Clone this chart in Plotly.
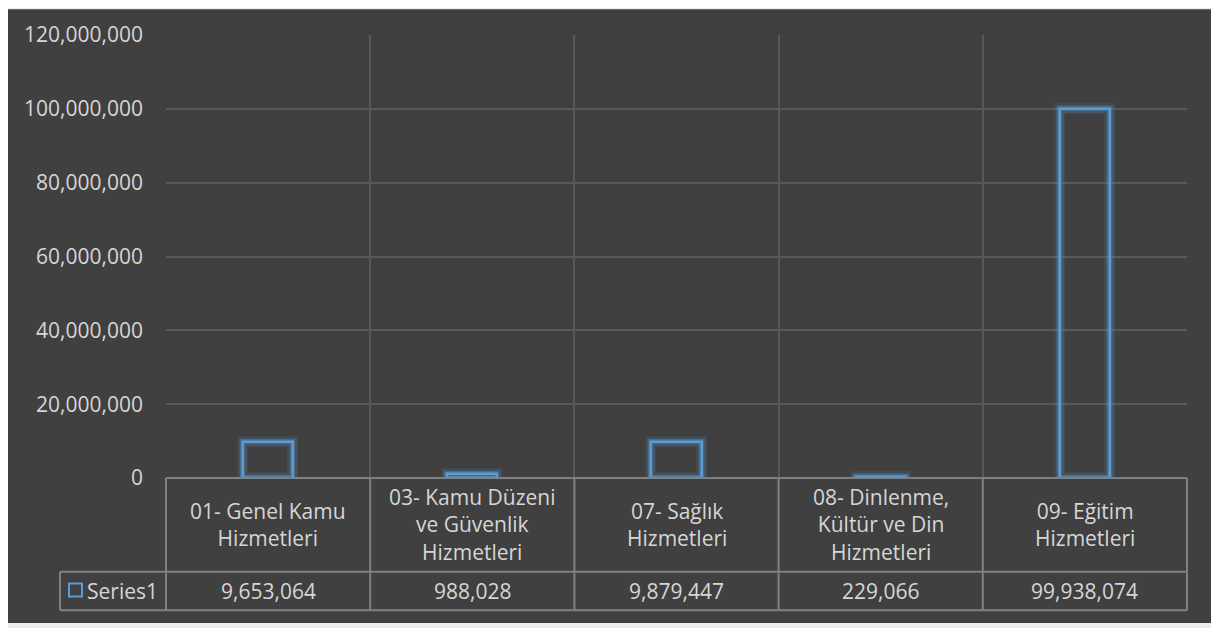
import plotly.graph_objects as go

categories = ["01- Genel Kamu Hizmetleri",
              "03- Kamu Düzeni ve Güvenlik Hizmetleri",
              "07- Sağlık Hizmetleri",
              "08- Dinlenme, Kültür ve Din Hizmetleri",
              "09- Eğitim Hizmetleri"]
header_labels = ["01- Genel Kamu<br>Hizmetleri",
                 "03- Kamu Düzeni<br>ve Güvenlik<br>Hizmetleri",
                 "07- Sağlık<br>Hizmetleri",
                 "08- Dinlenme,<br>Kültür ve Din<br>Hizmetleri",
                 "09- Eğitim<br>Hizmetleri"]
series_name = "Series1"
values = [9653064, 988028, 9879447, 229066, 99938074]
y_ticks = [0, 20000000, 40000000, 60000000, 80000000, 100000000, 120000000]

BG = "#404040"
TXT = "#d6d6d6"
GRID = "#595959"
TBL = "#808080"
BLUE = "#5B9BD5"
FONT = "Open Sans"
FS = 21

fig = go.Figure()
# glow layers
for w, a in [(11, 0.10), (8, 0.16), (5, 0.3)]:
    fig.add_trace(go.Bar(x=categories, y=values, width=0.245,
                         marker=dict(color="rgba(0,0,0,0)",
                                     line=dict(color=f"rgba(91,155,213,{a})", width=w)),
                         hoverinfo="skip", showlegend=False))
fig.add_trace(go.Bar(x=categories, y=values, width=0.245, name=series_name,
                     marker=dict(color="rgba(0,0,0,0)", line=dict(color=BLUE, width=2.5)),
                     showlegend=False))

# page offset (default body margin) and geometry in page pixels
OFF = 8
W, H = 1219 - OFF, 628 - OFF
PL, PR, PT, PB = 166, 1187, 29, 478        # plot area edges in page pixels
L, T = PL - OFF, PT - OFF
R, B = W - (PR - OFF), H - (PB - OFF)
pw, ph = PR - PL, PB - PT
def px(xp): return (xp - PL) / pw
def py(yp): return (PB - yp) / ph

shapes = []
shapes.append(dict(type="rect", xref="paper", yref="paper", layer="below",
                   x0=px(5), x1=px(1215), y0=py(625), y1=py(3),
                   fillcolor=BG, line=dict(width=0)))
y_top, y_mid, y_bot = py(478), py(573), py(612)
x_left = px(60)
shapes.append(dict(type="line", xref="paper", yref="paper", x0=0, x1=1, y0=y_top, y1=y_top,
                   line=dict(color=TBL, width=2)))
for yy in (y_mid, y_bot):
    shapes.append(dict(type="line", xref="paper", yref="paper", x0=x_left, x1=1, y0=yy, y1=yy,
                       line=dict(color=TBL, width=2)))
for i in range(len(categories) + 1):
    xx = i / len(categories)
    shapes.append(dict(type="line", xref="paper", yref="paper", x0=xx, x1=xx, y0=y_bot, y1=y_top,
                       line=dict(color=TBL, width=2)))
shapes.append(dict(type="line", xref="paper", yref="paper", x0=x_left, x1=x_left, y0=y_bot, y1=y_mid,
                   line=dict(color=TBL, width=2)))
shapes.append(dict(type="rect", xref="paper", yref="paper", x0=px(69), x1=px(82), y0=py(598), y1=py(585),
                   fillcolor="rgba(0,0,0,0)", line=dict(color=BLUE, width=2)))

annotations = []
for cat, lab, v in zip(categories, header_labels, values):
    annotations.append(dict(x=cat, xref="x", y=py(525.5), yref="paper", text=lab, showarrow=False,
                            font=dict(family=FONT, size=FS, color=TXT), align="center",
                            xanchor="center", yanchor="middle"))
    annotations.append(dict(x=cat, xref="x", y=py(592.5), yref="paper", text=f"{v:,}", showarrow=False,
                            font=dict(family=FONT, size=FS, color=TXT),
                            xanchor="center", yanchor="middle"))
annotations.append(dict(x=px(85), xref="paper", y=py(592.5), yref="paper", text=series_name,
                        showarrow=False, font=dict(family=FONT, size=FS, color=TXT),
                        xanchor="left", yanchor="middle"))

fig.update_layout(
    width=W, height=H,
    margin=dict(l=L, r=R, t=T, b=B),
    paper_bgcolor="#ececec", plot_bgcolor="rgba(0,0,0,0)",
    barmode="overlay", bargap=0,
    shapes=shapes, annotations=annotations,
    font=dict(family=FONT, color=TXT),
    xaxis=dict(type="category", categoryorder="array", categoryarray=categories,
               tickson="boundaries", showgrid=True, gridcolor=GRID, gridwidth=1.5,
               showticklabels=False, ticks="", zeroline=False, showline=False,
               range=[-0.5, len(categories) - 0.5]),
    yaxis=dict(range=[0, 120000000], tickvals=y_ticks, tickformat=",",
               showgrid=True, gridcolor=GRID, gridwidth=1.5, zeroline=False,
               tickfont=dict(family=FONT, size=FS, color=TXT), ticklabelstandoff=22,
               ticks="", showline=False),
)
fig.write_html("out.html")
